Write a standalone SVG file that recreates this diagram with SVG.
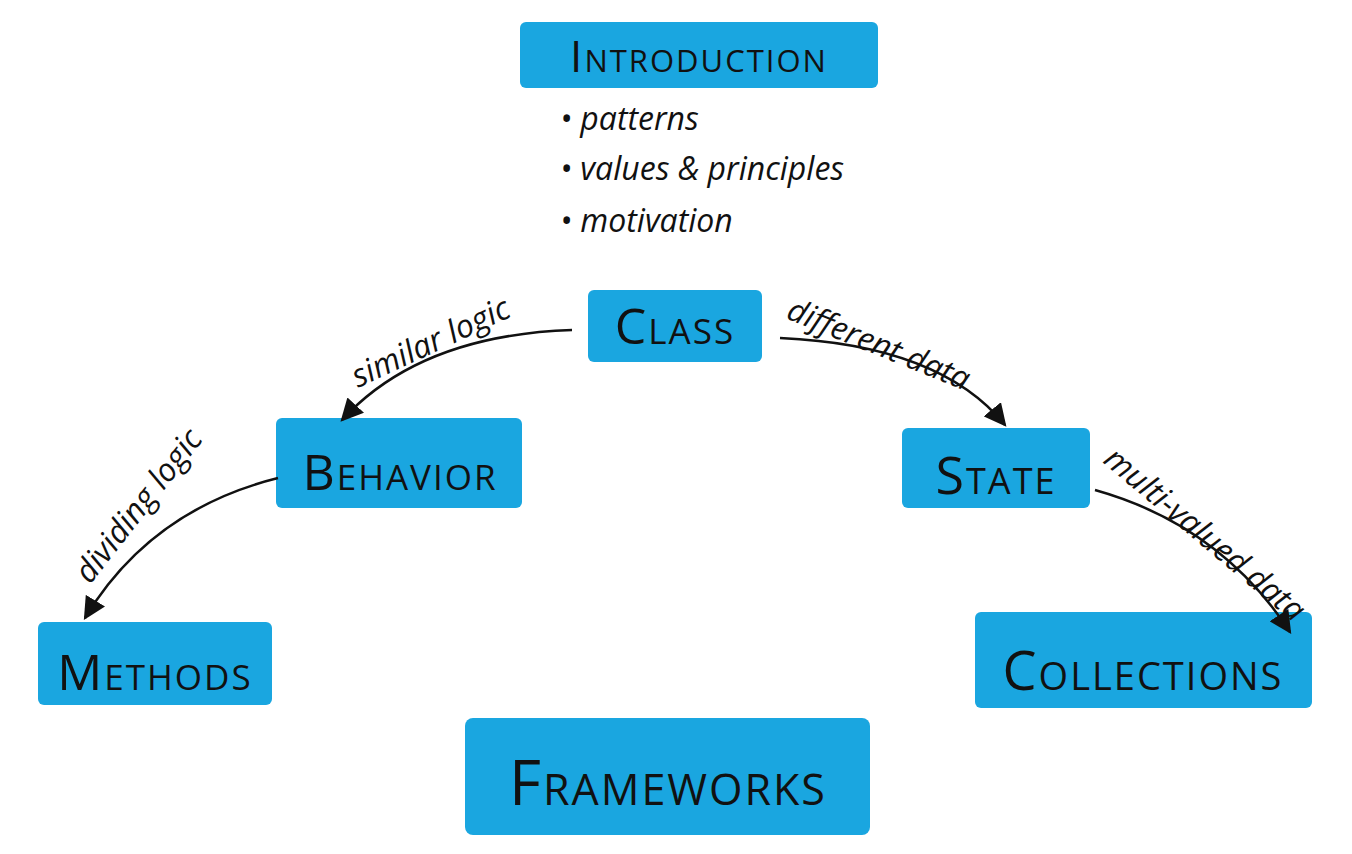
<svg xmlns="http://www.w3.org/2000/svg" width="1352" height="854" viewBox="0 0 1352 854">
<style>
.box{fill:#1aa6e0}
.t{font-family:"Open Sans",sans-serif;font-variant:small-caps;fill:#111;text-anchor:middle;letter-spacing:2px}
.l{font-family:"Open Sans",sans-serif;font-style:italic;fill:#111;font-size:32px}
.c{fill:none;stroke:#111;stroke-width:2.5}
</style>
<defs><marker id="a" viewBox="0 0 10 10" refX="9" refY="5" markerWidth="9" markerHeight="9" orient="auto"><path d="M0,0L10,5L0,10z" fill="#111"/></marker></defs>
<rect width="1352" height="854" fill="#fff"/>
<g id="introduction"><rect class="box" x="520" y="22" width="358" height="66" rx="6"/><text class="t" x="699" y="72" font-size="44">Introduction</text>
<text class="l" x="560" y="130">• patterns</text><text class="l" x="560" y="180">• values &amp; principles</text><text class="l" x="560" y="232">• motivation</text></g>
<g id="class"><rect class="box" x="588" y="290" width="174" height="72" rx="6"/><text class="t" x="675" y="344" font-size="50">Class</text></g>
<g id="behavior"><rect class="box" x="276" y="418" width="246" height="90" rx="6"/><text class="t" x="400" y="490" font-size="50">Behavior</text></g>
<g id="state"><rect class="box" x="902" y="428" width="188" height="80" rx="6"/><text class="t" x="996" y="494" font-size="52">State</text></g>
<g id="methods"><rect class="box" x="38" y="622" width="234" height="83" rx="6"/><text class="t" x="155" y="690" font-size="50">Methods</text></g>
<g id="collections"><rect class="box" x="975" y="612" width="337" height="96" rx="6"/><text class="t" x="1143" y="690" font-size="54">Collections</text></g>
<g id="frameworks"><rect class="box" x="465" y="718" width="405" height="117" rx="8"/><text class="t" x="668" y="805" font-size="62">Frameworks</text></g>
<g id="connectors">
<path class="c" d="M572,330 Q420,335 342,420" marker-end="url(#a)"/>
<path class="c" d="M780,338 Q940,345 1005,425" marker-end="url(#a)"/>
<path class="c" d="M278,478 Q150,510 85,618" marker-end="url(#a)"/>
<path class="c" d="M1095,490 Q1220,525 1290,632" marker-end="url(#a)"/>
<text class="l" transform="translate(358,388) rotate(-25)">similar logic</text>
<text class="l" transform="translate(785,318) rotate(22)">different data</text>
<text class="l" transform="translate(90,585) rotate(-52)">dividing logic</text>
<text class="l" transform="translate(1102,462) rotate(40)">multi-valued data</text>
</g>
</svg>
